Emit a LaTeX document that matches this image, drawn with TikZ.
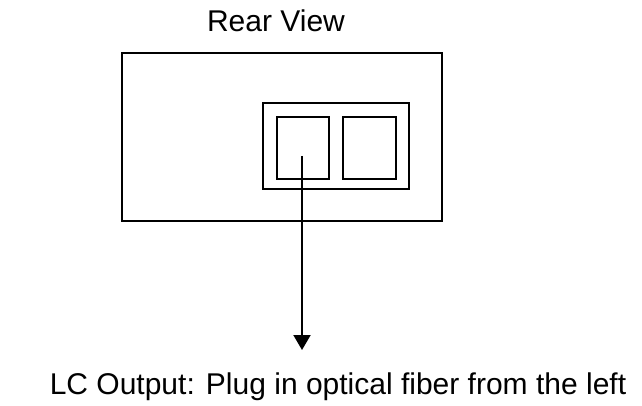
\documentclass[tikz,border=0pt]{standalone}
\usepackage{fontspec}
\setmainfont{Liberation Sans}
\usetikzlibrary{arrows.meta}
\begin{document}
\begin{tikzpicture}[x=1pt,y=-1pt,
  box/.style={draw=black,line width=2pt},
  lbl/.style={font=\fontsize{30}{36}\selectfont,inner sep=0pt,anchor=base}]
\useasboundingbox (0,0) rectangle (642,406);
\draw[box] (121.7,52.7) rectangle (441.7,221) ;
\draw[box] (263.3,103.3) rectangle (409.3,189);
\draw[box] (277.3,116.7) rectangle (329.3,179);
\draw[box] (343.3,116.7) rectangle (395.7,179);
\node[lbl] (title) at (276,32) {Rear View};
\coordinate (start) at (302,156);
\coordinate (tip) at (302,350);
\draw[line width=2pt,-{Triangle[length=15pt,width=17pt]}] (start) -- (tip);
\node[lbl] (out) at (338,394) {LC Output: Plug in optical fiber from the left};
\end{tikzpicture}
\end{document}
